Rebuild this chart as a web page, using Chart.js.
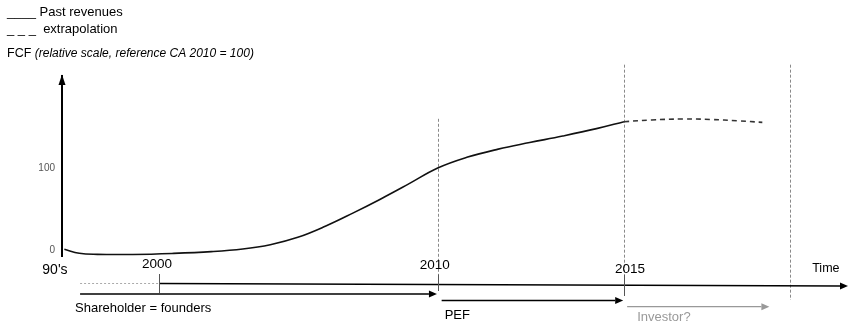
<!DOCTYPE html>
<html>
<head>
<meta charset="utf-8">
<script src="https://cdn.jsdelivr.net/npm/chart.js@4.4.1/dist/chart.umd.min.js"></script>
<style>
  html, body { margin: 0; padding: 0; background: #fff; }
  #wrap { position: relative; width: 850px; height: 324px; }
</style>
</head>
<body>
<div id="wrap"><canvas id="c"></canvas></div>
<script>
// ---- Data ----
// x: relative position along the schematic timeline (0 = y axis, 100 = end of time arrow)
const timePos   = [0.3, 2.2, 4.5, 9.0, 14.0, 19.0, 23.0, 26.5, 30.0, 33.5, 37.0, 40.5, 44.0, 47.8, 51.5, 55.5, 59.5, 63.7, 68.0, 71.5];
const pastFCF   = [0.9, -4, -5.3, -5.4, -4.2, -2.0, 1.2, 6.5, 15.5, 29, 45, 62, 80, 100, 113, 123, 131, 139, 148, 156.5];
const extraPos  = [71.5, 75.0, 79.0, 82.5, 86.0, 89.1];
const extraFCF  = [156.5, 158.6, 159.8, 159.2, 157.6, 155.7];
const yTicks    = [0, 100];

// timeline milestones
const milestoneLabels = ["90's", "2000", "2010", "2015", "Time"];
const milestonePos    = [-0.9, 12.4, 47.8, 71.5, 92.6];
const phaseLabels = ["Shareholder = founders", "PEF", "Investor?"];
const phaseStart  = [2.3, 48.3, 71.9];
const phaseEnd    = [47.7, 71.4, 90.0];

const legendLines = ["____ Past revenues", "_ _ _  extrapolation"];
const axisTitleMain = "FCF";
const axisTitleNote = "(relative scale, reference CA 2010 = 100)";

const FONT = '"Liberation Sans", Arial, sans-serif';

function arrow(ctx, x1, y1, x2, y2, color, w) {
  const L = 8, H = 3.5;
  const ang = Math.atan2(y2 - y1, x2 - x1);
  ctx.strokeStyle = color; ctx.fillStyle = color; ctx.lineWidth = w; ctx.setLineDash([]);
  ctx.beginPath();
  ctx.moveTo(x1, y1);
  ctx.lineTo(x2 - L * Math.cos(ang), y2 - L * Math.sin(ang));
  ctx.stroke();
  ctx.beginPath();
  ctx.moveTo(x2, y2);
  ctx.lineTo(x2 - L * Math.cos(ang) + H * Math.sin(ang), y2 - L * Math.sin(ang) - H * Math.cos(ang));
  ctx.lineTo(x2 - L * Math.cos(ang) - H * Math.sin(ang), y2 - L * Math.sin(ang) + H * Math.cos(ang));
  ctx.closePath();
  ctx.fill();
}

const schematic = {
  id: 'schematic',
  beforeDatasetsDraw(chart) {
    const {ctx, chartArea: a, scales: {x, y}} = chart;
    const B = a.bottom;
    ctx.save();
    const vl = [
      {pos: milestonePos[2], top: y.getPixelForValue(160), bot: B + 34.5},
      {pos: milestonePos[3], top: y.getPixelForValue(226), bot: B + 39.5},
      {pos: milestonePos[4], top: y.getPixelForValue(226), bot: B + 43.5}
    ];
    ctx.strokeStyle = '#8a8a8a'; ctx.lineWidth = 1; ctx.setLineDash([3, 2]);
    vl.forEach(v => {
      const px = Math.round(x.getPixelForValue(v.pos)) + 0.5;
      ctx.beginPath(); ctx.moveTo(px, v.top); ctx.lineTo(px, v.bot); ctx.stroke();
    });
    ctx.restore();
  },
  afterDraw(chart) {
    const {ctx, chartArea: a, scales: {x, y}} = chart;
    const B = a.bottom;
    ctx.save();
    // y axis arrow head
    ctx.fillStyle = '#000';
    ctx.beginPath();
    ctx.moveTo(a.left, a.top - 1.5);
    ctx.lineTo(a.left - 3.5, a.top + 9);
    ctx.lineTo(a.left + 3.5, a.top + 9);
    ctx.closePath(); ctx.fill();

    // legend + axis title
    ctx.fillStyle = '#000'; ctx.textBaseline = 'middle'; ctx.textAlign = 'left';
    ctx.font = '13px ' + FONT;
    ctx.fillText(legendLines[0], 7, 12.5);
    ctx.fillText(legendLines[1], 7, 29);
    ctx.font = '12.5px ' + FONT;
    ctx.fillText(axisTitleMain, 7, 54);
    const w0 = ctx.measureText(axisTitleMain + ' ').width;
    ctx.font = 'italic 12px ' + FONT;
    ctx.fillText(axisTitleNote, 7 + w0, 54);

    // grey dotted stub before 2000
    ctx.strokeStyle = '#aaa'; ctx.lineWidth = 1; ctx.setLineDash([2, 2]);
    ctx.beginPath();
    ctx.moveTo(x.getPixelForValue(phaseStart[0]), B + 27);
    ctx.lineTo(x.getPixelForValue(milestonePos[1]), B + 27);
    ctx.stroke();

    // time axis
    arrow(ctx, x.getPixelForValue(milestonePos[1]), B + 27, x.getPixelForValue(100), B + 29.5, '#000', 1.6);

    // small solid ticks at 2000, 2010, 2015
    ctx.strokeStyle = '#555'; ctx.lineWidth = 1; ctx.setLineDash([]);
    [[1, 17.5, 36.5], [2, 18, 34.5], [3, 18, 39.5]].forEach(t => {
      const px = Math.round(x.getPixelForValue(milestonePos[t[0]])) + 0.5;
      ctx.beginPath(); ctx.moveTo(px, B + t[1]); ctx.lineTo(px, B + t[2]); ctx.stroke();
    });

    // phase arrows
    const phaseDy = [37.5, 44, 50.2];
    const phaseCol = ['#000', '#000', '#999'];
    phaseLabels.forEach((p, i) => {
      arrow(ctx, x.getPixelForValue(phaseStart[i]), B + phaseDy[i], x.getPixelForValue(phaseEnd[i]), B + phaseDy[i], phaseCol[i], i === 2 ? 1.3 : 1.5);
    });

    // phase labels
    const phaseLabelOff = [-5, 3, 10];
    const phaseLabelDy = [51.5, 58.5, 60.5];
    ctx.font = '13px ' + FONT; ctx.textAlign = 'left'; ctx.textBaseline = 'middle';
    phaseLabels.forEach((p, i) => {
      ctx.fillStyle = phaseCol[i];
      ctx.fillText(p, x.getPixelForValue(phaseStart[i]) + phaseLabelOff[i], B + phaseLabelDy[i]);
    });

    // milestone labels
    const msOff = [0, -2.5, -3, 6, 36];
    const msDy = [13.5, 7.5, 8.5, 12.5, 12.5];
    const msSize = [14, 13.5, 13.5, 13.5, 12.5];
    ctx.fillStyle = '#000'; ctx.textAlign = 'center';
    milestoneLabels.forEach((m, i) => {
      ctx.font = msSize[i] + 'px ' + FONT;
      ctx.fillText(m, x.getPixelForValue(milestonePos[i]) + msOff[i], B + msDy[i]);
    });
    ctx.restore();
  }
};

new Chart(document.getElementById('c'), {
  type: 'scatter',
  data: {
    datasets: [
      {
        label: 'Past revenues',
        data: timePos.map((t, i) => ({x: t, y: pastFCF[i]})),
        showLine: true, borderColor: '#111', borderWidth: 1.6,
        pointRadius: 0, tension: 0.4, fill: false
      },
      {
        label: 'extrapolation',
        data: extraPos.map((t, i) => ({x: t, y: extraFCF[i]})),
        showLine: true, borderColor: '#333', borderWidth: 1.6, borderDash: [5, 4],
        pointRadius: 0, tension: 0.4, fill: false
      }
    ]
  },
  options: {
    responsive: true,
    maintainAspectRatio: false,
    animation: false,
    layout: { padding: { left: 0, top: 76, right: 2, bottom: 67.5 } },
    plugins: { legend: { display: false }, tooltip: { enabled: false } },
    scales: {
      x: { type: 'linear', min: 0, max: 100, display: false },
      y: {
        type: 'linear', min: -7.9, max: 212.2,
        grid: { display: false, drawTicks: false },
        border: { display: true, color: '#000', width: 2 },
        afterBuildTicks: (s) => { s.ticks = yTicks.map(v => ({value: v})); },
        afterFit: (s) => { s.width = 62; },
        ticks: { color: '#555', padding: 7, font: { size: 10, family: FONT } }
      }
    }
  },
  plugins: [schematic]
});
</script>
</body>
</html>
